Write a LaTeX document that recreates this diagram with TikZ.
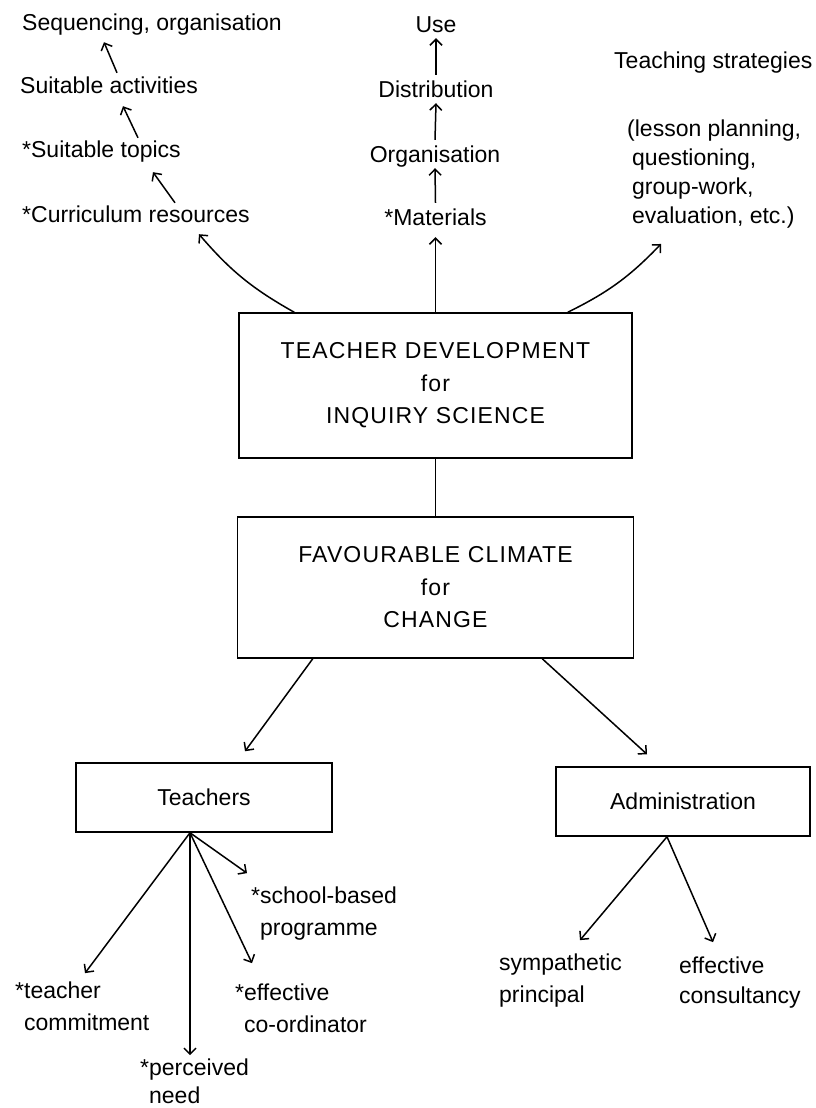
\documentclass[tikz,border=0pt]{standalone}
\usepackage{fontspec}
\setmainfont{Liberation Sans}
\newfontfamily\boxfont[LetterSpace=5]{Liberation Sans}
\usetikzlibrary{arrows.meta}
\begin{document}
\begin{tikzpicture}[x=1pt,y=-1pt,
  lbl/.style={inner sep=0pt, anchor=base west, font=\fontsize{23}{30}\selectfont, text height=17pt, text depth=5pt},
  clbl/.style={inner sep=0pt, anchor=base, font=\fontsize{23}{30}\selectfont, text height=17pt, text depth=5pt},
  mlbl/.style={inner sep=0pt, anchor=base west, align=left, font=\fontsize{23}{#1}\selectfont},
  mlbl/.default=32,
  bigbox/.style={draw, line width=1.5pt, inner sep=0pt, align=center, font={\boxfont\fontsize{23}{32.5}\selectfont}},
  smallbox/.style={draw, line width=1.5pt, inner sep=0pt, font=\fontsize{23}{30}\selectfont},
  arr/.style={line width=1.5pt, -{Straight Barb[length=6pt,width=12pt,line width=1.5pt]}},
  conn/.style={line width=1.5pt}
]
\fill[white] (0,0) rectangle (815,1108);
\path[use as bounding box] (0,0) rectangle (815,1108);

% left chain
\node[lbl] (seq) at (22,31) {Sequencing, organisation};
\node[lbl] (act) at (20,93) {Suitable activities};
\node[lbl] (top) at (22,157) {*Suitable topics};
\node[lbl] (cur) at (22,222) {*Curriculum resources};

% middle chain
\node[clbl] (use) at (436,33) {Use};
\node[clbl] (dist) at (436,97) {Distribution};
\node[clbl] (org) at (435,162) {Organisation};
\node[clbl] (mat) at (435.5,225) {*Materials};

% right (multi-line nodes are placed by the baseline of their last line)
\node[lbl] (ts) at (614,68) {Teaching strategies};
\node[mlbl=29] (lst) at (627,223) {(lesson planning,\\\hspace*{5pt}questioning,\\\hspace*{5pt}group-work,\\\hspace*{5pt}evaluation, etc.)};

% boxes
\node[bigbox, minimum width=393pt, minimum height=145pt] (b1) at (435.5,385.5)
  {TEACHER DEVELOPMENT\\for\\INQUIRY SCIENCE};
\node[bigbox, minimum width=396pt, minimum height=141pt] (b2) at (435.5,587.5)
  {FAVOURABLE CLIMATE\\for\\CHANGE};
\node[smallbox, minimum width=256pt, minimum height=69pt] (teach) at (204,797.5) {Teachers};
\node[smallbox, minimum width=254pt, minimum height=69pt] (adm) at (683,801.5) {Administration};

% bottom labels
\node[mlbl] (tc) at (15,1030) {*teacher\\\phantom{*}commitment};
\node[mlbl=28] (pn) at (140,1103) {*perceived\\\phantom{*}need};
\node[mlbl] (ec) at (235,1032) {*effective\\\phantom{*}co-ordinator};
\node[mlbl] (sb) at (251,935) {*school-based\\\phantom{*}programme};
\node[mlbl] (sp) at (499,1002) {sympathetic\\principal};
\node[mlbl=30] (cs) at (679,1003) {effective\\consultancy};

% left chain arrows
\draw[arr] ([xshift=153pt,yshift=2pt]cur.north west) -- ([xshift=131pt,yshift=-10pt]top.south west);
\draw[arr] ([xshift=116pt,yshift=2pt]top.north west) -- ([xshift=103pt,yshift=-8pt]act.south west);
\draw[arr] ([xshift=97pt,yshift=3pt]act.north west) -- ([xshift=82pt,yshift=-6pt]seq.south west);
\draw[arr] ([xshift=56pt]b1.north west) to[bend left=10] ([xshift=177pt,yshift=-7pt]cur.south west);

% middle chain arrows
\draw[arr] (b1.north) -- ([yshift=-7pt]b1.north |- mat.south);
\draw[arr] ([yshift=5pt]mat.north) -- ([yshift=-1pt]org.south);
\draw[arr] ([yshift=5pt]org.north) -- ([yshift=-1pt]dist.south);
\draw[arr] ([yshift=5pt]dist.north) -- (use.south);

% right arrow
\draw[arr] ([xshift=-65pt]b1.north east) to[bend right=10] ([xshift=34pt,yshift=-16pt]lst.south west);

% box links
\draw[conn] (b1.south) -- (b2.north);
\draw[arr] ([xshift=76pt]b2.south west) -- ([xshift=41pt,yshift=11pt]teach.north);
\draw[arr] ([xshift=-92pt]b2.south east) -- ([xshift=-36pt,yshift=12pt]adm.north);

% teachers fan
\draw[arr] ([xshift=-14pt]teach.south) -- ([xshift=70pt,yshift=8pt]tc.north west);
\draw[arr] ([xshift=-14pt]teach.south) -- ([xshift=50pt,yshift=3pt]pn.north west);
\draw[arr] ([xshift=-14pt]teach.south) -- ([xshift=17pt,yshift=20pt]ec.north west);
\draw[arr] ([xshift=-14pt]teach.south) -- ([xshift=-4pt,yshift=13pt]sb.north west);

% administration fan
\draw[arr] ([xshift=-16pt]adm.south) -- ([xshift=81pt,yshift=13pt]sp.north west);
\draw[arr] ([xshift=-16pt]adm.south) -- ([xshift=34pt,yshift=14pt]cs.north west);
\end{tikzpicture}
\end{document}
